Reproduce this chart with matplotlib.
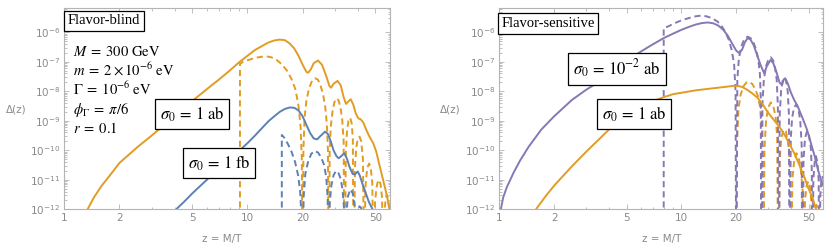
import numpy as np
import matplotlib.pyplot as plt
from matplotlib import ticker

plt.rcParams['mathtext.fontset'] = 'stix'
plt.rcParams['font.family'] = ['DejaVu Sans']

ORANGE = '#E19C24'
BLUE = '#5E81B5'
PURPLE = '#8778B3'
GRAY = '#8a8a8a'

# --- datos (z, log10 Delta) ---
# panel izquierdo: flavor-blind
fb_ab_z = [1.34, 1.45, 1.6, 1.8, 2.0, 2.5, 3, 3.5, 4, 5, 6, 7, 8, 9, 10, 11, 12, 13, 14, 15, 16, 17, 18, 19,
           20, 21, 21.5, 22.2, 23, 24.3, 25.5, 26.8, 28, 28.6, 29.5, 31, 32.3, 33.5, 34.5, 35.5, 36.6, 37.8,
           39, 40.3, 41.5, 42.8, 44.5, 46, 48.5, 50.5, 52.3, 54, 56, 58, 60]
fb_ab_lg = [-12.0, -11.6, -11.2, -10.8, -10.43, -9.9, -9.5, -9.15, -8.85, -8.33, -7.93, -7.6, -7.3, -7.02,
            -6.8, -6.6, -6.47, -6.35, -6.28, -6.25, -6.27, -6.38, -6.55, -6.8, -7.1, -7.35, -7.37, -7.25,
            -7.05, -6.96, -7.1, -7.45, -7.82, -7.88, -7.75, -7.65, -7.8, -8.2, -8.43, -8.35, -8.27, -8.45,
            -8.75, -8.92, -8.95, -9.05, -9.3, -9.5, -9.75, -10.05, -10.45, -10.8, -11.2, -11.6, -12.1]

fb_ab_dash_z = [9.1, 9.1, 9.5, 10, 11, 12, 12.7, 13.5, 14.5, 15.5, 16.5, 17.5, 18.3, 19.0, 19.5, 19.8, 19.95,
                20.05, 20.2, 20.5, 21, 21.7, 22.5, 23.3, 24.2, 25, 25.9, 26.6, 27.1, 27.5, 27.7,
                27.9, 28.1, 28.5, 29.1, 29.8, 30.6, 31.4, 32.2, 32.9, 33.5, 33.8,
                34.1, 34.4, 34.9, 35.6, 36.4, 37.1, 37.6, 37.9,
                38.2, 38.6, 39.3, 40.0, 40.9, 41.8, 42.7, 43.3,
                43.6, 44.0, 44.7, 45.4, 46.2, 47.1, 48.0, 48.9,
                49.2, 49.7, 50.5, 51.3, 52.3, 53.3, 54.3, 55.1,
                55.4, 55.9, 56.6, 57.5, 58.5, 59.5, 60.5]
fb_ab_dash_lg = [-14, -7.07, -7.0, -6.95, -6.87, -6.83, -6.82, -6.85, -6.95, -7.1, -7.32, -7.62, -7.95, -8.5,
                 -9.2, -10.3, -14,
                 -14, -10.0, -8.9, -8.3, -7.9, -7.65, -7.56, -7.6, -7.78, -8.12, -8.55, -9.1, -10.0, -14,
                 -14, -10.1, -9.2, -8.7, -8.38, -8.24, -8.3, -8.55, -8.95, -9.7, -14,
                 -14, -10.2, -9.4, -9.0, -8.9, -9.1, -9.6, -14,
                 -14, -10.6, -9.9, -9.62, -9.54, -9.7, -10.3, -14,
                 -14, -11.3, -10.8, -10.55, -10.45, -10.6, -11.1, -14,
                 -14, -11.8, -11.3, -11.1, -11.0, -11.15, -11.6, -14,
                 -14, -12.2, -11.75, -11.5, -11.6, -12.0, -12.6]

fb_fb_z = [4.08, 4.5, 5, 6, 7, 8, 9, 10, 11, 12, 13, 14, 15, 16, 17, 18, 19, 20, 21, 22, 23, 24, 25, 26.5,
           27.5, 28.5, 29.5, 30.6, 31.5, 32.5, 33.8, 35, 36, 37.5, 38.5, 40, 41, 42.5, 44.3, 46, 48.2, 50]
fb_fb_lg = [-12.0, -11.75, -11.46, -11.0, -10.6, -10.3, -10.02, -9.76, -9.5, -9.25, -9.02, -8.85, -8.7,
            -8.6, -8.55, -8.56, -8.65, -8.85, -9.15, -9.42, -9.6, -9.63, -9.52, -9.37, -9.45, -9.7, -10.0,
            -10.2, -10.27, -10.2, -10.1, -10.3, -10.55, -10.8, -10.82, -10.72, -10.85, -11.15, -11.46,
            -11.75, -12.0, -12.3]

fb_fb_dash_z = [15.4, 15.4, 15.9, 16.6, 17.4, 18.2, 18.9, 19.4, 19.8, 19.95,
                20.05, 20.25, 20.7, 21.4, 22.3, 23.3, 24.3, 25.3, 26.2, 26.9, 27.4, 27.6,
                27.8, 28.1, 28.7, 29.5, 30.4, 31.3, 32.2, 33.0, 33.7, 34.0,
                34.3, 34.7, 35.4, 36.5, 37.5, 38.4, 38.9,
                39.2, 39.8, 40.8, 41.7, 42.4, 42.7]
fb_fb_dash_lg = [-14, -9.48, -9.58, -9.78, -10.05, -10.4, -10.85, -11.4, -12.5, -14,
                 -14, -11.6, -10.8, -10.4, -10.12, -10.02, -10.08, -10.25, -10.5, -10.9, -11.6, -14,
                 -14, -11.8, -11.2, -10.85, -10.7, -10.75, -10.95, -11.3, -12.0, -14,
                 -14, -12.1, -11.55, -11.32, -11.45, -11.85, -14,
                 -14, -12.3, -11.9, -11.95, -12.3, -14]

# panel derecho: flavor-sensitive
fs_m2_z = [1.02, 1.05, 1.1, 1.2, 1.3, 1.45, 1.7, 2.0, 2.5, 3, 3.8, 4.7, 5.8, 6.8, 8, 9, 10, 11, 12, 13, 14,
           15, 16, 17, 18, 19, 20, 20.8, 21.6, 22.3, 23.1, 24, 25, 26, 27.2, 28.5, 29.5, 30.9, 32, 33.3,
           34.6, 35.7, 36.5, 37.2, 38.5, 40, 41.7, 43.5, 46.4, 49, 51.5, 54, 57, 60]
fs_m2_lg = [-12.0, -11.6, -11.25, -10.75, -10.35, -9.88, -9.3, -8.85, -8.3, -7.95, -7.56, -7.13, -6.71,
            -6.45, -6.2, -6.05, -5.92, -5.82, -5.74, -5.69, -5.67, -5.7, -5.78, -5.92, -6.12, -6.38, -6.62,
            -6.71, -6.58, -6.35, -6.2, -6.25, -6.45, -6.75, -7.1, -7.39, -7.15, -6.94, -7.05, -7.35, -7.7,
            -7.79, -7.6, -7.56, -7.75, -8.05, -8.3, -8.5, -8.92, -9.3, -9.76, -10.2, -10.78, -11.2]

fs_m2_dash_z = [8.0, 8.0, 8.5, 9, 10, 11, 12, 12.8, 13.7, 14.7, 15.8, 16.6, 17.4, 18.2, 18.9, 19.5, 19.85, 20.0,
                20.1, 20.3, 20.7, 21.3, 22.1, 23.1, 24.0, 24.9, 25.8, 26.5, 27.0, 27.3, 27.45,
                27.7, 27.9, 28.4, 29.2, 30.1, 31.0, 31.9, 32.7, 33.4, 33.9, 34.1,
                34.4, 34.7, 35.3, 36.0, 36.8, 37.6, 38.4, 39.0, 39.2,
                39.5, 39.9, 40.6, 41.6, 42.8, 44.0, 45.0, 45.8, 46.1,
                46.4, 46.9, 47.8, 49.0, 50.3, 51.4, 52.1, 52.3,
                52.6, 53.1, 54.0, 54.9, 55.9, 56.8, 57.2,
                57.5, 58.0, 58.8, 59.6, 60.5]
fs_m2_dash_lg = [-14, -5.86, -5.8, -5.72, -5.6, -5.52, -5.46, -5.44, -5.46, -5.52, -5.64, -5.78, -5.98,
                 -6.25, -6.6, -7.1, -8.0, -14,
                 -14, -7.6, -6.9, -6.5, -6.25, -6.15, -6.2, -6.35, -6.6, -6.95, -7.4, -8.2, -14,
                 -14, -8.4, -7.6, -7.15, -6.92, -6.85, -6.95, -7.2, -7.6, -8.5, -14,
                 -14, -8.8, -8.0, -7.65, -7.54, -7.65, -8.0, -8.8, -14,
                 -14, -9.6, -8.9, -8.55, -8.45, -8.6, -9.0, -9.8, -14,
                 -14, -10.3, -9.6, -9.35, -9.5, -9.9, -10.7, -14,
                 -14, -11.0, -10.4, -10.2, -10.4, -11.0, -14,
                 -14, -11.5, -11.0, -10.9, -11.0]

fs_ab_z = [1.59, 1.8, 2.0, 2.5, 3, 3.5, 4, 4.5, 5.1, 6, 7, 8, 9, 10.5, 12, 14, 17, 19.8, 21.5, 23, 24.5,
           26.2, 28, 29.9, 32, 34.5, 36.7, 39, 41.7, 44.5, 47.3, 50, 52.5, 55, 57]
fs_ab_lg = [-12.0, -11.55, -11.2, -10.55, -10.05, -9.65, -9.3, -9.0, -8.75, -8.5, -8.33, -8.2, -8.1, -8.03,
            -7.97, -7.92, -7.86, -7.81, -7.85, -7.95, -8.07, -8.22, -8.45, -8.72, -8.95, -9.2, -9.45,
            -9.75, -10.1, -10.5, -10.9, -11.3, -11.6, -12.0, -12.4]

fs_ab_dash_z = [20.0, 20.2, 20.6, 21.2, 22.0, 22.8, 23.6, 24.5, 25.4, 26.3, 27.1, 27.7, 28.0, 28.1,
                28.3, 28.6, 29.2, 30.0, 31.0, 32.0, 32.9, 33.6, 34.0,
                34.3, 34.7, 35.4, 36.4, 37.5, 38.5, 39.4, 39.9,
                40.2, 40.7, 41.6, 42.8, 44.0, 45.2, 46.3, 46.8,
                47.2, 47.8, 48.8, 49.8, 50.9, 51.9, 52.4,
                52.8, 53.5, 54.4, 55.3, 56.3, 57.3]
fs_ab_dash_lg = [-14, -9.8, -8.6, -8.1, -7.82, -7.7, -7.68, -7.75, -7.92, -8.15, -8.55, -9.2, -10.2, -14,
                 -14, -10.0, -9.0, -8.55, -8.38, -8.5, -8.85, -9.5, -14,
                 -14, -10.3, -9.6, -9.3, -9.35, -9.7, -10.4, -14,
                 -14, -11.0, -10.4, -10.1, -10.2, -10.6, -11.3, -14,
                 -14, -11.7, -11.2, -11.05, -11.25, -11.8, -14,
                 -14, -12.3, -11.9, -11.85, -12.1, -14]

W, H = 830, 247
fig = plt.figure(figsize=(W / 100, H / 100), dpi=100)


def px_axes(x0, x1, y0, y1):
    return fig.add_axes([x0 / W, 1 - y1 / H, (x1 - x0) / W, (y1 - y0) / H])


def estilo(ax):
    ax.set_xscale('log')
    ax.set_yscale('log')
    ax.set_xlim(1, 60)
    ax.set_ylim(1e-12, 10 ** -5.18)
    for s in ax.spines.values():
        s.set_color('#b4b4b4')
        s.set_linewidth(0.8)
    ax.xaxis.set_major_locator(ticker.FixedLocator([1, 2, 5, 10, 20, 50]))
    ax.xaxis.set_major_formatter(ticker.FixedFormatter(['1', '2', '5', '10', '20', '50']))
    ax.xaxis.set_minor_locator(ticker.LogLocator(base=10, subs=np.arange(1, 10), numticks=20))
    ax.xaxis.set_minor_formatter(ticker.NullFormatter())
    exps = list(range(-12, -5))
    ax.yaxis.set_major_locator(ticker.FixedLocator([10.0 ** e for e in exps]))
    ax.yaxis.set_major_formatter(ticker.FixedFormatter([r'$\mathregular{10^{%d}}$' % e for e in exps]))
    ax.yaxis.set_minor_locator(ticker.LogLocator(base=10, subs=np.arange(2, 10), numticks=20))
    ax.yaxis.set_minor_formatter(ticker.NullFormatter())
    ax.tick_params(which='both', direction='in', top=True, right=True, color='#b4b4b4',
                   labelcolor=GRAY, labelsize=7.5, width=0.6)
    ax.tick_params(which='major', length=3.5, pad=3)
    ax.tick_params(which='minor', length=1.8)


def curva(ax, z, lg, color, ls='-'):
    y = 10.0 ** np.array(lg)
    if ls == '-':
        ax.plot(z, y, color=color, lw=1.4, solid_capstyle='butt', solid_joinstyle='round')
    else:
        ax.plot(z, y, color=color, lw=1.4, ls=(0, (3.2, 2.0)), dash_joinstyle='round')


ax1 = px_axes(64.3, 390, 8, 209.3)
ax2 = px_axes(499.3, 823, 8, 209.3)
estilo(ax1)
estilo(ax2)

curva(ax1, fb_ab_dash_z, fb_ab_dash_lg, ORANGE, '--')
curva(ax1, fb_fb_dash_z, fb_fb_dash_lg, BLUE, '--')
curva(ax1, fb_ab_z, fb_ab_lg, ORANGE)
curva(ax1, fb_fb_z, fb_fb_lg, BLUE)

curva(ax2, fs_ab_dash_z, fs_ab_dash_lg, ORANGE, '--')
curva(ax2, fs_m2_dash_z, fs_m2_dash_lg, PURPLE, '--')
curva(ax2, fs_ab_z, fs_ab_lg, ORANGE)
curva(ax2, fs_m2_z, fs_m2_lg, PURPLE)


def ftext(x, y, s, **kw):
    return fig.text(x / W, 1 - y / H, s, **kw)


caja = dict(boxstyle='square,pad=0.25', fc='white', ec='black', lw=0.9)
serif = ['Liberation Serif', 'DejaVu Serif']

ftext(104, 21, 'Flavor-blind', family=serif, fontsize=10.5, ha='center', va='center', bbox=caja)
ftext(548, 23.5, 'Flavor-sensitive', family=serif, fontsize=10.5, ha='center', va='center', bbox=caja)

params = [r'$M \;=\; 300\ \mathrm{GeV}$', r'$m \;=\; 2 \times 10^{-6}\ \mathrm{eV}$',
          r'$\Gamma \;=\; 10^{-6}\ \mathrm{eV}$', r'$\phi_\Gamma \;=\; \pi/6$', r'$r \;=\; 0.1$']
for i, p in enumerate(params):
    ftext(73, 56 + 19.3 * i, p, fontsize=10.5, ha='left', va='baseline')

caja2 = dict(boxstyle='square,pad=0.3', fc='white', ec='black', lw=0.9)
ftext(192, 114, r'$\sigma_0 \,=\, 1\ \mathrm{ab}$', fontsize=12, ha='center', va='center', bbox=caja2)
ftext(219, 163, r'$\sigma_0 \,=\, 1\ \mathrm{fb}$', fontsize=12, ha='center', va='center', bbox=caja2)
ftext(616.7, 69, r'$\sigma_0 \,=\, 10^{-2}\ \mathrm{ab}$', fontsize=12, ha='center', va='center', bbox=caja2)
ftext(634, 114, r'$\sigma_0 \,=\, 1\ \mathrm{ab}$', fontsize=12, ha='center', va='center', bbox=caja2)

for xl, xx in ((16, 222), (450, 661.7)):
    ftext(xl, 110, 'Δ(z)', fontsize=7.5, color=GRAY, ha='center', va='center')
    ftext(xx, 239, 'z = M/T', fontsize=7.5, color=GRAY, ha='center', va='center')

fig.savefig('out.png', dpi=100)
